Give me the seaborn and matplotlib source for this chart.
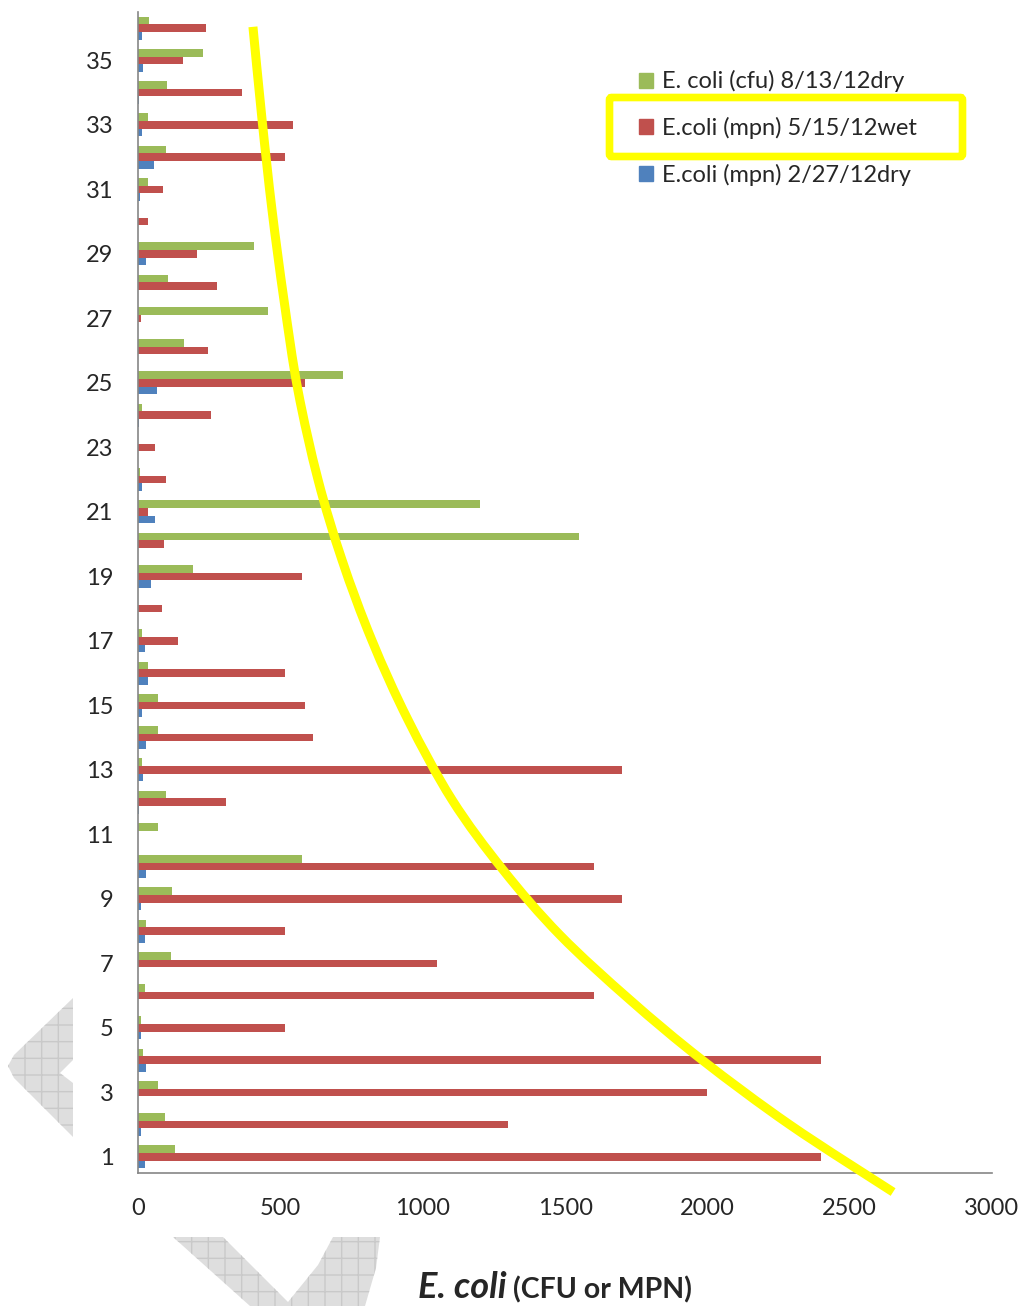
import matplotlib
matplotlib.use("Agg")
import matplotlib.pyplot as plt
import matplotlib.patches as mpatches
from matplotlib.path import Path
import numpy as np
import pandas as pd
import seaborn as sns

# sites 1..36, three sampling events
sites = list(range(1, 37))
ecoli_cfu_0813_dry = [130, 94, 69, 17, 9, 22, 114, 28, 120, 574,
                      70, 99, 13, 69, 71, 33, 14, 0, 191, 1550,
                      1200, 7, 0, 12, 721, 159, 457, 103, 407, 0,
                      35, 97, 34, 101, 229, 36]
ecoli_mpn_0515_wet = [2400, 1300, 2000, 2400, 516, 1600, 1050, 516, 1700, 1600,
                      0, 307, 1700, 615, 586, 516, 138, 85, 575, 89,
                      33, 98, 58, 257, 586, 246, 10, 277, 206, 33,
                      86, 516, 544, 365, 156, 237]
ecoli_mpn_0227_dry = [22, 10, 0, 28, 9, 0, 0, 24, 9, 28,
                      0, 3, 16, 28, 12, 33, 22, 0, 45, 0,
                      57, 12, 0, 3, 64, 0, 0, 0, 26, 0,
                      5, 55, 14, 3, 17, 12]

series_names = ["E. coli (cfu) 8/13/12dry", "E.coli (mpn) 5/15/12wet", "E.coli (mpn) 2/27/12dry"]
series_colors = ["#9BBB59", "#C0504D", "#4F81BD"]

x_ticks = [0, 500, 1000, 1500, 2000, 2500, 3000]

# hand-drawn yellow highlight curve (value, site position from top)
curve_x = [403, 435, 470, 512, 561, 632, 716, 821, 948, 1103, 1282, 1482, 1728, 1981, 2291, 2653]
curve_pos = [-0.04, 2.84, 5.64, 8.43, 11.22, 14.01, 16.49, 18.98, 21.45, 23.93,
             26.10, 28.12, 30.13, 31.99, 34.01, 36.09]

df = pd.DataFrame({
    "site": [str(s) for s in sites] * 3,
    "series": np.repeat(series_names, len(sites)),
    "value": ecoli_cfu_0813_dry + ecoli_mpn_0515_wet + ecoli_mpn_0227_dry,
})

sns.set_style("white")
plt.rcParams["font.family"] = ["Lato", "DejaVu Sans"]

fig = plt.figure(figsize=(10.23, 13.06), dpi=100)

# grey watermark shapes in the background
W, H = 1023.0, 1306.0
def px(pts):
    return [(x / W, 1 - y / H) for x, y in pts]

chev = px([(73, 998), (14, 1055), (8, 1066), (14, 1078), (73, 1137), (73, 1083), (60, 1073), (73, 1060)])
vee = px([(173, 1237), (223, 1237), (288, 1302), (318, 1265), (333, 1237), (380, 1237),
          (376, 1268), (365, 1306), (250, 1306)])
for shape in (chev, vee):
    fig.patches.append(mpatches.Polygon(shape, closed=True, transform=fig.transFigure,
                                        facecolor="#dedede", edgecolor="#c9c9c9",
                                        hatch="+", linewidth=0, zorder=0))

ax = fig.add_axes([138.3 / W, 1 - 1173 / H, 853.5 / W, 1161 / H])
ax.patch.set_alpha(0)

order = [str(s) for s in sites[::-1]]
sns.barplot(data=df, y="site", x="value", hue="series", order=order,
            hue_order=series_names, palette=dict(zip(series_names, series_colors)),
            orient="h", width=0.72, saturation=1, linewidth=0, legend=False, ax=ax)

ax.set_xlim(0, 3000)
ax.set_ylim(35.5, -0.5)
ax.set_xticks(x_ticks)
ax.set_xticklabels([str(t) for t in x_ticks], fontsize=17)
odd_sites = [s for s in sites if s % 2 == 1]
ax.set_yticks([36 - s for s in odd_sites])
ax.set_yticklabels([str(s) for s in odd_sites], fontsize=17)
ax.set_yticks(np.arange(-0.5, 36, 1), minor=True)
ax.tick_params(axis="y", which="major", length=0, pad=18)
ax.tick_params(axis="y", which="minor", length=6, width=1.2, color="#868686", direction="out")
ax.tick_params(axis="x", which="major", length=6, width=1.2, color="#868686", direction="out", pad=12)
ax.set_xlabel("")
ax.set_ylabel("")
for side in ["top", "right"]:
    ax.spines[side].set_visible(False)
for side in ["left", "bottom"]:
    ax.spines[side].set_color("#868686")
    ax.spines[side].set_linewidth(1.2)

# smooth the hand-drawn curve through its points (Catmull-Rom as cubic Beziers)
pts = np.column_stack([curve_x, curve_pos]).astype(float)
ext = np.vstack([pts[0], pts, pts[-1]])
verts = [tuple(pts[0])]
codes = [Path.MOVETO]
for i in range(1, len(ext) - 2):
    c1 = ext[i] + (ext[i + 1] - ext[i - 1]) / 6
    c2 = ext[i + 1] - (ext[i + 2] - ext[i]) / 6
    verts += [tuple(c1), tuple(c2), tuple(ext[i + 1])]
    codes += [Path.CURVE4] * 3
ax.add_patch(mpatches.PathPatch(Path(verts, codes), fill=False, edgecolor="#FFFF00",
                                linewidth=6.5, capstyle="butt", clip_on=False, zorder=5))

handles = [mpatches.Patch(color=c) for c in series_colors]
fig.legend(handles, series_names, loc="upper left", bbox_to_anchor=(618 / W, 1 - 49 / H),
           frameon=False, fontsize=17, handlelength=0.6, handleheight=0.6,
           handletextpad=0.35, labelspacing=1.05)

fig.patches.append(mpatches.FancyBboxPatch((609.5 / W, 1 - 156.5 / H), 353 / W, 59 / H,
                                           boxstyle="round,pad=0,rounding_size=0.002",
                                           transform=fig.transFigure, fill=False,
                                           edgecolor="#FFFF00", linewidth=5.5, zorder=6))

fig.text(507 / W, 1 - 1298 / H, "E. coli", fontsize=26, fontweight="bold", fontstyle="italic",
         ha="right", va="baseline")
fig.text(513 / W, 1 - 1298 / H, "(CFU or MPN)", fontsize=20.5, fontweight="bold",
         ha="left", va="baseline")

fig.savefig("out.png", dpi=100)
